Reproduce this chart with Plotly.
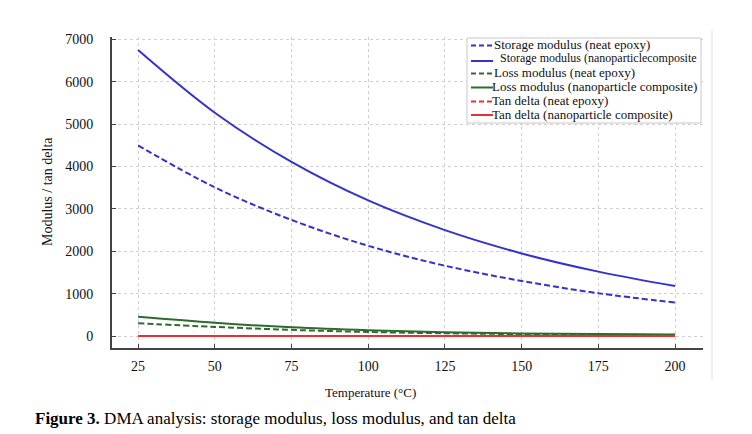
import plotly.graph_objects as go

temperature = [25, 50, 75, 100, 125, 150, 175, 200]
storage_neat = [4500, 3510, 2740, 2130, 1660, 1300, 1010, 790]
storage_nano = [6750, 5270, 4110, 3200, 2500, 1950, 1520, 1180]
loss_neat = [300, 215, 145, 95, 65, 45, 32, 24]
loss_nano = [456, 314, 205, 135, 90, 62, 45, 33]
tan_neat = [0.05, 0.06, 0.08, 0.12, 0.25, 0.5, 0.8, 0.6]
tan_nano = [0.04, 0.05, 0.06, 0.09, 0.18, 0.4, 0.65, 0.5]

x_ticks = [25, 50, 75, 100, 125, 150, 175, 200]
y_ticks = [0, 1000, 2000, 3000, 4000, 5000, 6000, 7000]

BLUE = "#3333cc"
GREEN = "#2e6b2e"
RED = "#e83030"
FONT = "Liberation Serif"

series = [
    ("Storage modulus (neat epoxy)", storage_neat, BLUE, "dash"),
    ("Storage modulus (nanoparticlecomposite", storage_nano, BLUE, "solid"),
    ("Loss modulus (neat epoxy)", loss_neat, GREEN, "dash"),
    ("Loss modulus (nanoparticle composite)", loss_nano, GREEN, "solid"),
    ("Tan delta (neat epoxy)", tan_neat, RED, "dash"),
    ("Tan delta (nanoparticle composite)", tan_nano, RED, "solid"),
]

fig = go.Figure()
for name, vals, col, dash in series:
    fig.add_trace(go.Scatter(
        x=temperature, y=vals, name=name, mode="lines", showlegend=False,
        line=dict(color=col, width=2, dash="6px,3px" if dash == "dash" else "solid",
                  shape="spline", smoothing=1.0),
    ))

pl, pr, pt, pb = 112, 752 - 49, 37, 434 - 86


def px(x):
    return (x - pl) / (pr - pl)


def py(y):
    return (pb - y) / (pb - pt)


fig.update_layout(
    width=752, height=434,
    margin=dict(l=pl, r=752 - pr, t=pt, b=434 - pb),
    paper_bgcolor="white", plot_bgcolor="white",
    font=dict(family=FONT, size=14, color="#111"),
    showlegend=False,
    xaxis=dict(
        range=[16.5, 209.1], tickvals=x_ticks, ticktext=[str(v) for v in x_ticks],
        showgrid=True, gridcolor="#cfcfcf", griddash="dot", gridwidth=1,
        showline=True, linecolor="#444", linewidth=2,
        ticks="inside", ticklen=4, tickcolor="#444",
        zeroline=False, tickfont=dict(size=14), ticklabelstandoff=4,
    ),
    yaxis=dict(
        range=[-283, 7059], tickvals=y_ticks, ticktext=[str(v) for v in y_ticks],
        showgrid=True, gridcolor="#cfcfcf", griddash="dot", gridwidth=1,
        showline=True, linecolor="#444", linewidth=2,
        ticks="inside", ticklen=4, tickcolor="#444",
        zeroline=False, tickfont=dict(size=14), ticklabelstandoff=14,
    ),
)

annotations = [
    dict(text="Temperature (°C)", x=px(370), y=py(392), xanchor="center", yanchor="middle",
         font=dict(size=13)),
    dict(text="Modulus / tan delta", textangle=-90, x=px(47), y=py(192),
         xanchor="center", yanchor="middle", font=dict(size=14)),
    dict(text="<b>Figure 3.</b> DMA analysis: storage modulus, loss modulus, and tan delta",
         x=px(33), y=py(418), xanchor="left", yanchor="middle",
         font=dict(size=17, color="#000")),
]

shapes = [
    dict(type="line", x0=px(712), x1=px(712), y0=py(30), y1=py(380),
         line=dict(color="#e0e0e0", width=1)),
    dict(type="rect", x0=px(467), x1=px(701), y0=py(38), y1=py(123),
         line=dict(color="#c8c8c8", width=1), fillcolor="white", layer="above"),
]

# legend entries (manual, compact like the reference)
leg_text_y = [44.5, 58.5, 72.5, 86.5, 100.5, 114.5]
leg_line_y = [45.5, 61, 73.5, 87.5, 101.5, 115]
leg_text_x = [493, 499, 493, 491, 491, 491]
leg_size = [13, 12, 13, 13, 13, 13]
for (name, vals, col, dash), ty, ly, tx, fs in zip(series, leg_text_y, leg_line_y, leg_text_x, leg_size):
    shapes.append(dict(type="line", x0=px(471), x1=px(493), y0=py(ly), y1=py(ly),
                       line=dict(color=col, width=2, dash="5px,3px" if dash == "dash" else "solid"),
                       layer="above"))
    annotations.append(dict(text=name, x=px(tx), y=py(ty), xanchor="left", yanchor="middle",
                            font=dict(size=fs, color="#111"), borderpad=0))

for a in annotations:
    a.update(xref="paper", yref="paper", showarrow=False)
for s in shapes:
    s.update(xref="paper", yref="paper")

fig.update_layout(annotations=annotations, shapes=shapes)

fig.write_html("out.html")
